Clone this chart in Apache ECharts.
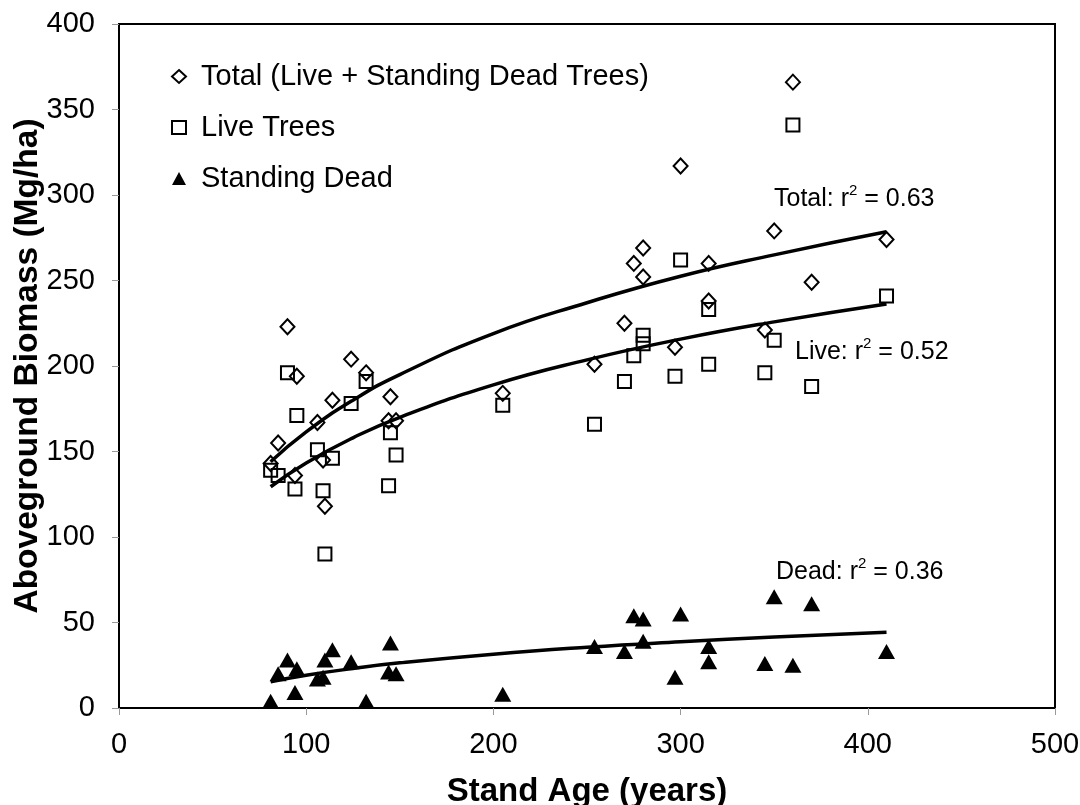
<!DOCTYPE html>
<html>
<head>
<meta charset="utf-8">
<title>Aboveground Biomass vs Stand Age</title>
<script src="https://cdn.jsdelivr.net/npm/echarts@6.0.0/dist/echarts.min.js" type="text/javascript" charset="utf-8"></script>
<style>
	*{
		margin: 0;
		padding: 0;
	}
	body{
		background: #fff;
	}
	#chart{
		width: 1080px;
		height: 805px;
	}
</style>
</head>
<body>
	<div id="chart"></div>
</body>
<script>
// stand ages of the plots (years)
var standAge = [81, 85, 90, 94, 95, 106, 109, 110, 114, 124, 132, 144, 145, 148,
	205, 254, 270, 275, 280, 280, 297, 300, 315, 315, 345, 350, 360, 370, 410];

// biomass (Mg/ha), one value per plot
var totalBiomass = [143, 155, 223, 136, 194, 167, 145, 118, 180, 204, 196, 168, 182, 168,
	184, 201, 225, 260, 269, 252, 211, 317, 260, 238, 221, 279, 366, 249, 274];
var liveBiomass = [139, 136, 196, 128, 171, 151, 127, 90, 146, 178, 191, 130, 161, 148,
	177, 166, 191, 206, 218, 213, 194, 262, 233, 201, 196, 215, 341, 188, 241];
var deadBiomass = [4, 20, 28, 9, 23, 17, 18, 28, 34, 27, 4, 21, 38, 20,
	8, 36, 33, 54, 52, 39, 18, 55, 36, 27, 26, 65, 25, 61, 33];

// fitted curves, points
var trendAge = [81, 100, 125, 150, 200, 250, 300, 350, 410];
var totalTrend = [144, 161.5, 180, 195, 219, 237, 252.5, 265, 278.5];
var liveTrend = [129.4, 143.3, 158, 170, 189, 203.6, 215.7, 225.8, 236.3];
var deadTrend = [15.4, 19.2, 23.1, 26.4, 31.5, 35.5, 38.7, 41.5, 44.3];

var xTicks = [0, 100, 200, 300, 400, 500];
var yTicks = [0, 50, 100, 150, 200, 250, 300, 350, 400];

var font = "'Liberation Sans', Arial, sans-serif";

function pairs(xs, ys){
	let out = [];
	for (var i = 0; i < xs.length; i++) {
		out.push([xs[i], ys[i]]);
	}
	return out;
}

function trendLine(name, ys){
	return {
		name: name,
		type: 'line',
		data: pairs(trendAge, ys),
		smooth: true,
		symbol: 'none',
		z: 3,
		lineStyle: {color: '#000', width: 3.5}
	};
}

function rLabel(label, r){
	return '{a|' + label + ': r}{s|2}{a| = ' + r + '}';
}

var richStyle = {
	a: {fontSize: 25, fontFamily: font, color: '#000', lineHeight: 32},
	s: {fontSize: 15, fontFamily: font, color: '#000', verticalAlign: 'top', lineHeight: 32}
};

var myChart = echarts.init(document.getElementById('chart'));

var option = {
	backgroundColor: '#fff',
	animation: false,
	grid: {
		left: 119,
		right: 25,
		top: 24,
		bottom: 97,
		outerBoundsMode: 'none',
		show: true,
		borderColor: '#000',
		borderWidth: 2
	},
	legend: {
		orient: 'vertical',
		left: 166,
		top: 57,
		itemWidth: 14,
		itemHeight: 13,
		itemGap: 22,
		textStyle: {fontSize: 29, fontFamily: font, color: '#000', padding: [0, 0, 0, 10]},
		data: ['Total (Live + Standing Dead Trees)', 'Live Trees', 'Standing Dead']
	},
	xAxis: {
		type: 'value',
		min: xTicks[0],
		max: xTicks[xTicks.length - 1],
		interval: 100,
		name: 'Stand Age (years)',
		nameLocation: 'middle',
		nameGap: 67,
		nameMoveOverlap: false,
		nameTextStyle: {fontSize: 33, fontWeight: 'bold', fontFamily: font, color: '#000'},
		axisLine: {lineStyle: {color: '#000', width: 2}},
		axisTick: {show: true, length: 7, lineStyle: {color: '#999'}},
		axisLabel: {fontSize: 29, fontFamily: font, color: '#000', margin: 22},
		splitLine: {show: false}
	},
	yAxis: {
		type: 'value',
		min: yTicks[0],
		max: yTicks[yTicks.length - 1],
		interval: 50,
		name: 'Aboveground Biomass (Mg/ha)',
		nameLocation: 'middle',
		nameGap: 74,
		nameMoveOverlap: false,
		nameTextStyle: {fontSize: 33.5, fontWeight: 'bold', fontFamily: font, color: '#000'},
		axisLine: {lineStyle: {color: '#000', width: 2}},
		axisTick: {show: true, length: 7, lineStyle: {color: '#999'}},
		axisLabel: {fontSize: 29, fontFamily: font, color: '#000', margin: 24},
		splitLine: {show: false}
	},
	graphic: [
		{type: 'text', left: 774, top: 183, style: {text: rLabel('Total', '0.63'), rich: richStyle}},
		{type: 'text', left: 795, top: 336, style: {text: rLabel('Live', '0.52'), rich: richStyle}},
		{type: 'text', left: 776, top: 556, style: {text: rLabel('Dead', '0.36'), rich: richStyle}}
	],
	series: [
		{
			name: 'Total (Live + Standing Dead Trees)',
			type: 'scatter',
			data: pairs(standAge, totalBiomass),
			symbol: 'diamond',
			symbolSize: [14, 15],
			itemStyle: {color: '#fff', borderColor: '#000', borderWidth: 2, opacity: 1}
		},
		{
			name: 'Live Trees',
			type: 'scatter',
			data: pairs(standAge, liveBiomass),
			symbol: 'rect',
			symbolSize: [13, 13],
			itemStyle: {color: 'rgba(255,255,255,0)', borderColor: '#000', borderWidth: 2, opacity: 1}
		},
		{
			name: 'Standing Dead',
			type: 'scatter',
			data: pairs(standAge, deadBiomass),
			symbol: 'triangle',
			symbolSize: [17, 15],
			itemStyle: {color: '#000', opacity: 1}
		},
		trendLine('Total fit', totalTrend),
		trendLine('Live fit', liveTrend),
		trendLine('Dead fit', deadTrend)
	]
};

myChart.setOption(option);
</script>
</html>
